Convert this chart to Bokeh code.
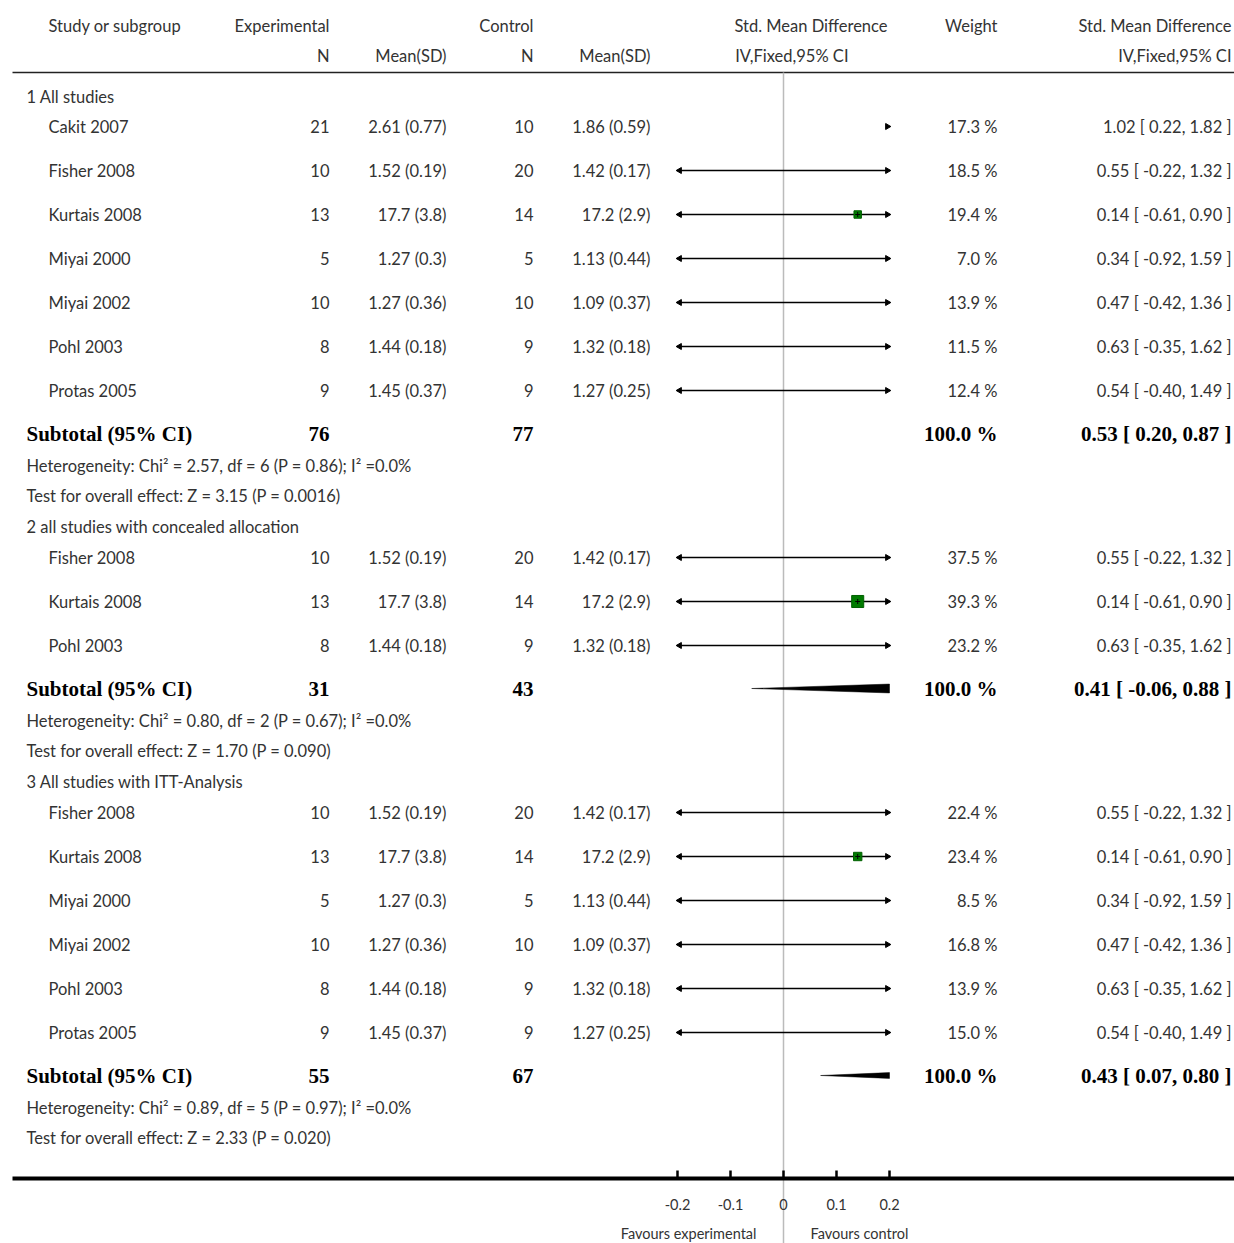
from bokeh.plotting import figure
from bokeh.models import Range1d
from bokeh.embed import file_html
from bokeh.resources import INLINE
from bokeh.core.properties import value

studies = ["Cakit 2007","Fisher 2008","Kurtais 2008","Miyai 2000","Miyai 2002","Pohl 2003","Protas 2005",
           "Fisher 2008","Kurtais 2008","Pohl 2003",
           "Fisher 2008","Kurtais 2008","Miyai 2000","Miyai 2002","Pohl 2003","Protas 2005"]
n_exp = [21,10,13,5,10,8,9, 10,13,8, 10,13,5,10,8,9]
msd_exp = ["2.61 (0.77)","1.52 (0.19)","17.7 (3.8)","1.27 (0.3)","1.27 (0.36)","1.44 (0.18)","1.45 (0.37)",
           "1.52 (0.19)","17.7 (3.8)","1.44 (0.18)",
           "1.52 (0.19)","17.7 (3.8)","1.27 (0.3)","1.27 (0.36)","1.44 (0.18)","1.45 (0.37)"]
n_ctl = [10,20,14,5,10,9,9, 20,14,9, 20,14,5,10,9,9]
msd_ctl = ["1.86 (0.59)","1.42 (0.17)","17.2 (2.9)","1.13 (0.44)","1.09 (0.37)","1.32 (0.18)","1.27 (0.25)",
           "1.42 (0.17)","17.2 (2.9)","1.32 (0.18)",
           "1.42 (0.17)","17.2 (2.9)","1.13 (0.44)","1.09 (0.37)","1.32 (0.18)","1.27 (0.25)"]
est = [1.02,0.55,0.14,0.34,0.47,0.63,0.54, 0.55,0.14,0.63, 0.55,0.14,0.34,0.47,0.63,0.54]
lo = [0.22,-0.22,-0.61,-0.92,-0.42,-0.35,-0.40, -0.22,-0.61,-0.35, -0.22,-0.61,-0.92,-0.42,-0.35,-0.40]
hi = [1.82,1.32,0.90,1.59,1.36,1.62,1.49, 1.32,0.90,1.62, 1.32,0.90,1.59,1.36,1.62,1.49]
weight = [17.3,18.5,19.4,7.0,13.9,11.5,12.4, 37.5,39.3,23.2, 22.4,23.4,8.5,16.8,13.9,15.0]
study_y = [126,170,214,258,302,346,390, 557,601,645, 812,856,900,944,988,1032]

groups = ["1 All studies","2 all studies with concealed allocation","3 All studies with ITT-Analysis"]
group_y = [96,526,781]
sub_n_exp = [76,31,55]
sub_n_ctl = [77,43,67]
sub_est = [0.53,0.41,0.43]
sub_lo = [0.20,-0.06,0.07]
sub_hi = [0.87,0.88,0.80]
sub_y = [433,688,1075]
het = ["Heterogeneity: Chi² = 2.57, df = 6 (P = 0.86); I² =0.0%",
       "Heterogeneity: Chi² = 0.80, df = 2 (P = 0.67); I² =0.0%",
       "Heterogeneity: Chi² = 0.89, df = 5 (P = 0.97); I² =0.0%"]
overall = ["Test for overall effect: Z = 3.15 (P = 0.0016)",
           "Test for overall effect: Z = 1.70 (P = 0.090)",
           "Test for overall effect: Z = 2.33 (P = 0.020)"]
ticks = [-0.2,-0.1,0,0.1,0.2]
tick_labels = ["-0.2","-0.1","0","0.1","0.2"]
XMIN, XMAX = -0.2, 0.2

W, H = 1234, 1243
PX = 530.0
ZERO = 783.0
p = figure(width=W, height=H, output_backend="svg", toolbar_location=None,
           x_range=Range1d(-ZERO/PX, (W-ZERO)/PX), y_range=Range1d(H, 0),
           min_border=0)
p.axis.visible = False
p.grid.visible = False
p.outline_line_color = None

def X(px): return (px-ZERO)/PX
def Y(py): return py

F = value("Lato")
FB = value("Liberation Serif")
C = "#333333"

def txt(x, y, s, align="left", size="16.5px", font=F, style="normal", color=C):
    p.text(x=[X(x)], y=[Y(y)], text=[s], text_align=align, text_baseline="middle",
           text_font=font, text_font_size=size, text_font_style=style, text_color=color)

# header
txt(48,25,"Study or subgroup"); txt(329,25,"Experimental",align="right"); txt(533,25,"Control",align="right")
txt(887,25,"Std. Mean Difference",align="right"); txt(997,25,"Weight",align="right"); txt(1231,25,"Std. Mean Difference",align="right")
txt(329,55,"N",align="right"); txt(446,55,"Mean(SD)",align="right"); txt(533,55,"N",align="right")
txt(650,55,"Mean(SD)",align="right"); txt(848,55,"IV,Fixed,95% CI",align="right"); txt(1231,55,"IV,Fixed,95% CI",align="right")
p.segment(x0=[X(12)], x1=[X(1234)], y0=[Y(72)], y1=[Y(72)], line_color="#222222", line_width=1.5)

# zero line
p.segment(x0=[0], x1=[0], y0=[Y(72)], y1=[Y(1243)], line_color="#bbbbbb", line_width=1.5)

for g, gy in zip(groups, group_y):
    txt(26, gy, g)

for i in range(len(studies)):
    y = Y(study_y[i])
    txt(48, study_y[i], studies[i])
    txt(329, study_y[i], str(n_exp[i]), align="right")
    txt(446, study_y[i], msd_exp[i], align="right")
    txt(533, study_y[i], str(n_ctl[i]), align="right")
    txt(650, study_y[i], msd_ctl[i], align="right")
    txt(997, study_y[i], "%.1f %%" % weight[i], align="right")
    txt(1231, study_y[i], "%.2f [ %.2f, %.2f ]" % (est[i], lo[i], hi[i]), align="right")
    a = max(lo[i], XMIN); b = min(hi[i], XMAX)
    if a < b:
        p.segment(x0=[a], x1=[b], y0=[y], y1=[y], line_color="black", line_width=1.5)
    if hi[i] > XMAX:
        p.scatter(x=[XMAX-0.004], y=[y], marker="triangle", size=6, angle=-1.5708,
                  fill_color="black", line_color="black")
    if lo[i] < XMIN:
        p.scatter(x=[XMIN+0.004], y=[y], marker="triangle", size=6, angle=1.5708,
                  fill_color="black", line_color="black")
    if XMIN <= est[i] <= XMAX:
        s = 3 + weight[i]*0.23
        p.scatter(x=[est[i]], y=[y], marker="square", size=s, fill_color="#007a00", line_color="#006000")
        p.scatter(x=[est[i]], y=[y], marker="cross", size=5, line_color="black")

BS = "21px"
for k in range(3):
    sy = sub_y[k]
    txt(26, sy, "Subtotal (95% CI)", size=BS, font=FB, style="bold", color="black")
    txt(329, sy, str(sub_n_exp[k]), align="right", size=BS, font=FB, style="bold", color="black")
    txt(533, sy, str(sub_n_ctl[k]), align="right", size=BS, font=FB, style="bold", color="black")
    txt(997, sy, "100.0 %", align="right", size=BS, font=FB, style="bold", color="black")
    txt(1231, sy, "%.2f [ %.2f, %.2f ]" % (sub_est[k], sub_lo[k], sub_hi[k]), align="right", size=BS, font=FB, style="bold", color="black")
    txt(26, sy+32, het[k], size="16.5px")
    txt(26, sy+62, overall[k], size="16.5px")
    h = 8.0
    def half(x):
        if x <= sub_est[k]:
            return h*(x-sub_lo[k])/(sub_est[k]-sub_lo[k])
        return h*(sub_hi[k]-x)/(sub_hi[k]-sub_est[k])
    a = max(sub_lo[k], XMIN); b = min(sub_hi[k], XMAX)
    if a < b:
        xs_pts = [a] + ([sub_est[k]] if a < sub_est[k] < b else []) + [b]
        top = [Y(sy) - half(x) for x in xs_pts]
        bot = [Y(sy) + half(x) for x in xs_pts]
        p.patch(x=xs_pts + xs_pts[::-1], y=top + bot[::-1], fill_color="black", line_color="black", line_width=0.5)

# bottom axis
p.segment(x0=[X(12)], x1=[X(1234)], y0=[Y(1178)], y1=[Y(1178)], line_color="black", line_width=4)
for t, lab in zip(ticks, tick_labels):
    p.segment(x0=[t], x1=[t], y0=[Y(1178)], y1=[Y(1170)], line_color="black", line_width=2.5)
    p.text(x=[t], y=[Y(1204)], text=[lab], text_align="center", text_baseline="middle",
           text_font=F, text_font_size="14.5px", text_color=C)
txt(756, 1233, "Favours experimental", align="right", size="14.5px")
txt(810, 1233, "Favours control", size="14.5px")

open("out.html", "w").write(file_html(p, INLINE))
